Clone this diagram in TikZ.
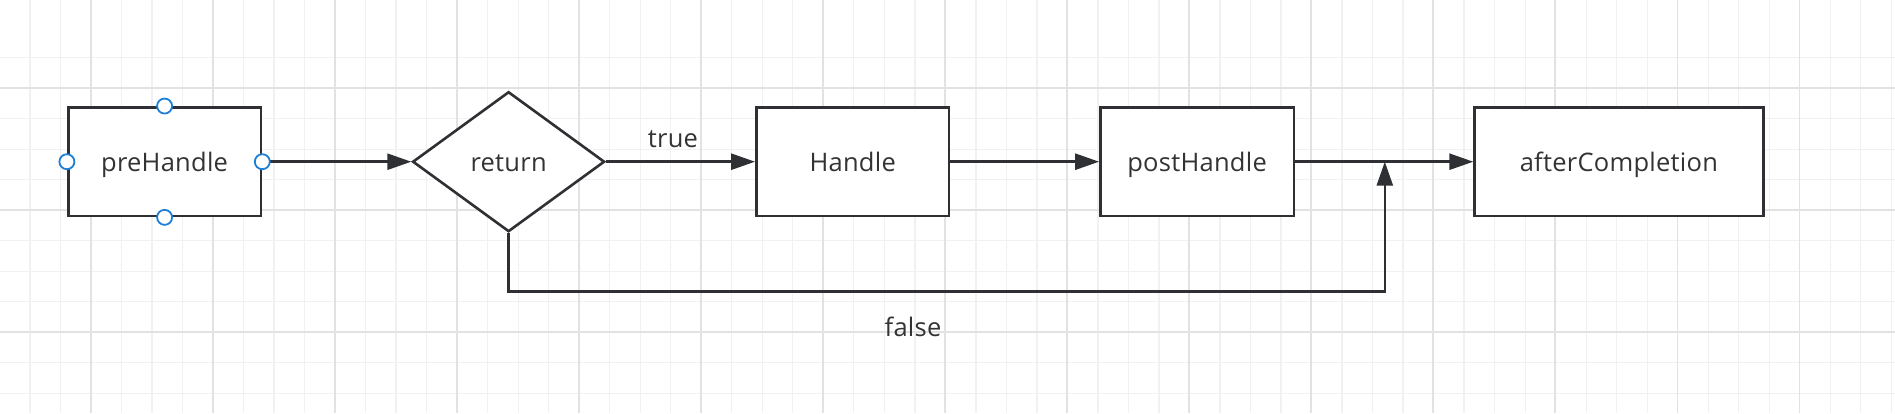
\documentclass[tikz,border=0pt]{standalone}
\usepackage{fontspec}
\setmainfont[LetterSpace=1]{Open Sans}
\usetikzlibrary{shapes.geometric,arrows.meta}
\definecolor{ink}{HTML}{2E3033}
\definecolor{txt}{HTML}{333333}
\definecolor{gminor}{HTML}{F1F1F1}
\definecolor{gmajor}{HTML}{E2E2E2}
\definecolor{portblue}{HTML}{1E7FD6}
\tikzset{
  box/.style={draw=ink, line width=2.6pt, fill=white, rectangle, inner sep=0pt, minimum height=108.7pt, text=txt, font=\fontsize{25.5}{30}\selectfont, text height=20pt, text depth=0pt},
  decision/.style={draw=ink, line width=2.6pt, fill=white, diamond, inner sep=0pt, minimum width=192pt, minimum height=140pt, text=txt, font=\fontsize{25.5}{30}\selectfont, text height=20pt, text depth=0pt},
  arr/.style={draw=ink, line width=2.6pt, -{Triangle[length=24pt,width=16pt]}},
  lbl/.style={text=txt, font=\fontsize{25.5}{30}\selectfont, inner sep=0pt, anchor=base},
  port/.style={circle, draw=portblue, line width=1.8pt, fill=white, minimum size=15pt, inner sep=0pt},
}
\begin{document}
\begin{tikzpicture}[x=1pt,y=-1pt]
\useasboundingbox (0,0) rectangle (1895,413);
\fill[white] (0,0) rectangle (1895,413);
% minor grid
\foreach \i in {0,...,62} {
  \draw[gminor, line width=1.3pt] ({-0.6+30.515*\i},0) -- ({-0.6+30.515*\i},413);
}
\foreach \j in {-1,...,13} {
  \draw[gminor, line width=1.3pt] (0,{88.3+30.5*\j}) -- (1895,{88.3+30.5*\j});
}
% major grid
\foreach \i in {0,...,14} {
  \draw[gmajor, line width=1.8pt] ({90.6+122.06*\i},0) -- ({90.6+122.06*\i},413);
}
\foreach \j in {0,1,2} {
  \draw[gmajor, line width=1.8pt] (0,{88.3+122*\j}) -- (1895,{88.3+122*\j});
}
% nodes
\node[box, minimum width=192.8pt] (pre) at (164.6,161.7) {preHandle};
\node[decision] (ret) at (508.6,161.7) {return};
\node[box, minimum width=192.7pt] (hand) at (852.7,161.7) {Handle};
\node[box, minimum width=193.4pt] (post) at (1197.1,161.7) {postHandle};
\node[box, minimum width=288.6pt] (after) at (1618.9,161.7) {afterCompletion};
\coordinate (fc) at (1384.8,291.7);
\coordinate (join) at (1384.8,161.7);
% connectors
\draw[arr] (pre.east) -- (ret.west);
\draw[arr] (ret.east) -- (hand.west);
\draw[arr] (hand.east) -- (post.west);
\draw[arr] (post.east) -- (after.west);
\draw[arr] (ret.south) |- (fc) -- (join);
% labels
\node[lbl] (tl) at (673,147.7) {true};
\node[lbl] (fl) at (913,336.7) {false};
% ports
\node[port] (p1) at (pre.north) {};
\node[port] (p2) at (pre.south) {};
\node[port] (p3) at (pre.west) {};
\node[port] (p4) at (pre.east) {};
\end{tikzpicture}
\end{document}
